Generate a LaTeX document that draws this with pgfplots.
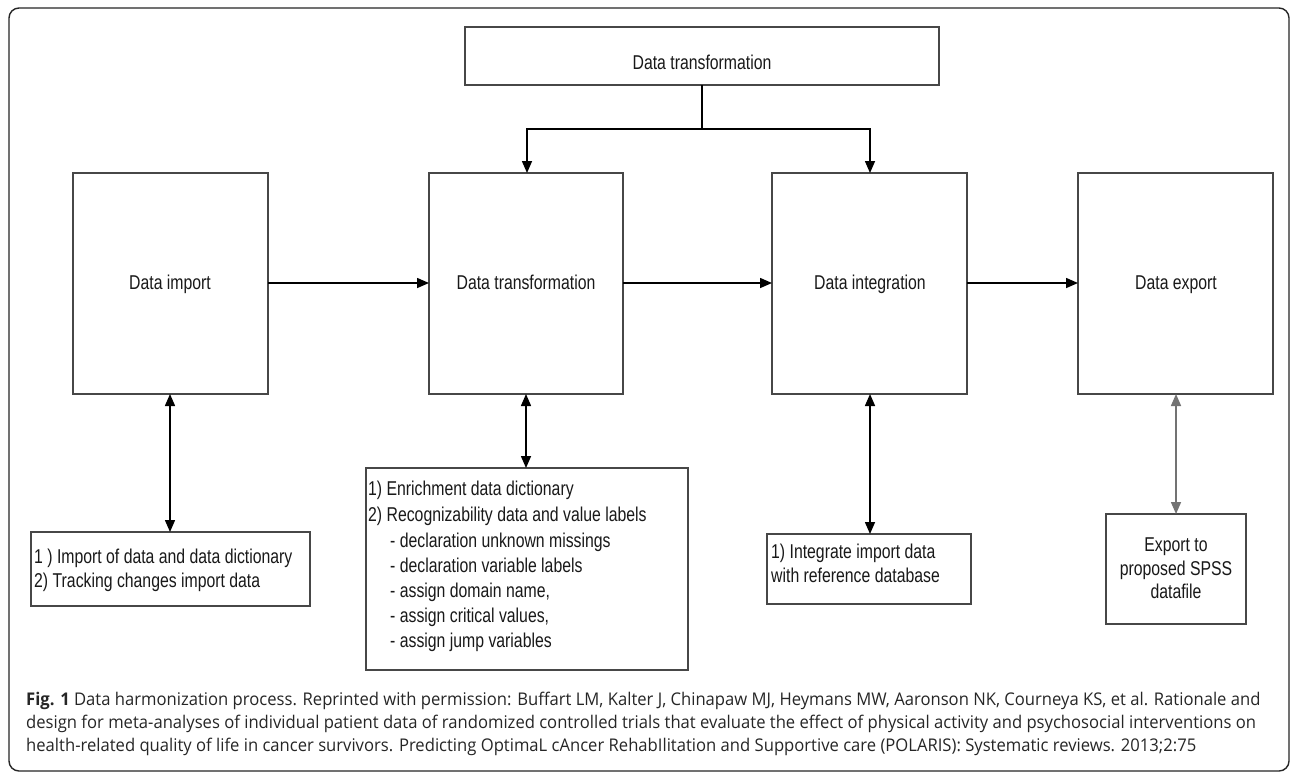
\documentclass[border=0pt]{standalone}
\usepackage{fontspec}
\setmainfont{Liberation Sans}
\newfontfamily\boxfont{Liberation Sans}[FakeStretch=0.79]
\newfontfamily\capfont{Open Sans}[FakeStretch=0.95]
\usepackage{pgfplots}
\pgfplotsset{compat=1.18}
\usetikzlibrary{arrows.meta}
\tikzset{
  bx/.style={draw=black!72, line width=1.6pt, line cap=rect, line join=miter},
  ar/.style={draw=black, line width=1.5pt, -{Triangle[length=12pt,width=10pt]}},
  dar/.style={draw=black, line width=1.5pt, {Triangle[length=12pt,width=10pt]}-{Triangle[length=12pt,width=10pt]}},
  bt/.style={font=\boxfont\fontsize{20}{23}\selectfont, text=black!90, inner sep=0pt},
  ct/.style={font=\capfont\fontsize{17.5}{23}\selectfont, text=black!85, inner sep=0pt, anchor=base west},
}
\begin{document}
\begin{tikzpicture}
\begin{axis}[
  width=1292pt, height=772pt, scale only axis,
  xmin=0, xmax=1292, ymin=0, ymax=772, y dir=reverse,
  hide axis, clip=false,
]
% background
\addplot[fill=white, draw=none] coordinates {(0,0) (1292,0) (1292,772) (0,772) (0,0)};
% outer frame
\addplot[draw=black!85, line width=1.4pt, rounded corners=10pt] coordinates {(600,8) (1289,8) (1289,771) (9,771) (9,8) (600,8)};

% top box
\addplot[bx] coordinates {(465,27) (939,27) (939,85) (465,85) (465,27)};
% main boxes
\addplot[bx] coordinates {(73,173) (268,173) (268,394) (73,394) (73,173)};
\addplot[bx] coordinates {(429,173) (623,173) (623,394) (429,394) (429,173)};
\addplot[bx] coordinates {(772,173) (967,173) (967,394) (772,394) (772,173)};
\addplot[bx] coordinates {(1078,173) (1273,173) (1273,394) (1078,394) (1078,173)};
% bottom boxes
\addplot[bx] coordinates {(31,532) (310,532) (310,606) (31,606) (31,532)};
\addplot[bx] coordinates {(366,468) (688,468) (688,670) (366,670) (366,468)};
\addplot[bx] coordinates {(767,534) (971,534) (971,604) (767,604) (767,534)};
\addplot[bx] coordinates {(1106,514) (1246,514) (1246,624) (1106,624) (1106,514)};

% connectors from top box
\addplot[ar] coordinates {(702,129) (527,129) (527,173)};
\addplot[ar] coordinates {(702,85) (702,129) (870,129) (870,173)};
% horizontal arrows
\addplot[ar] coordinates {(268,283) (429,283)};
\addplot[ar] coordinates {(623,283) (772,283)};
\addplot[ar] coordinates {(967,283) (1078,283)};
% double arrows
\addplot[dar] coordinates {(170,394) (170,532)};
\addplot[dar] coordinates {(526,394) (526,468)};
\addplot[dar] coordinates {(870,394) (870,534)};
\addplot[dar, draw=black!55] coordinates {(1176,394) (1176,514)};

% box texts
\node[bt, anchor=base] at (axis cs:702,69) {Data transformation};
\node[bt, anchor=base] at (axis cs:170,289) {Data import};
\node[bt, anchor=base] at (axis cs:526,289) {Data transformation};
\node[bt, anchor=base] at (axis cs:870,289) {Data integration};
\node[bt, anchor=base] at (axis cs:1176,289) {Data export};

\node[bt, anchor=base west] at (axis cs:34,563) {1 ) Import of data and data dictionary};
\node[bt, anchor=base west] at (axis cs:34,587) {2) Tracking changes import data};

\node[bt, anchor=base west] at (axis cs:368,495) {1) Enrichment data dictionary};
\node[bt, anchor=base west] at (axis cs:368,521) {2) Recognizability data and value labels};
\node[bt, anchor=base west] at (axis cs:390,547) {- declaration unknown missings};
\node[bt, anchor=base west] at (axis cs:390,572) {- declaration variable labels};
\node[bt, anchor=base west] at (axis cs:390,597) {- assign domain name,};
\node[bt, anchor=base west] at (axis cs:390,622) {- assign critical values,};
\node[bt, anchor=base west] at (axis cs:390,647) {- assign jump variables};

\node[bt, anchor=base west] at (axis cs:771,558) {1) Integrate import data};
\node[bt, anchor=base west] at (axis cs:771,582) {with reference database};

\node[bt, anchor=base] at (axis cs:1176,551) {Export to};
\node[bt, anchor=base] at (axis cs:1176,575) {proposed SPSS};
\node[bt, anchor=base] at (axis cs:1176,598) {datafile};

% caption
\node[ct] at (axis cs:26,705) {{\bfseries Fig. 1} Data harmonization process. Reprinted with permission: Buffart LM, Kalter J, Chinapaw MJ, Heymans MW, Aaronson NK, Courneya KS, et al. Rationale and};
\node[ct] at (axis cs:26,728) {design for meta-analyses of individual patient data of randomized controlled trials that evaluate the effect of physical activity and psychosocial interventions on};
\node[ct] at (axis cs:26,751) {health-related quality of life in cancer survivors. Predicting OptimaL cAncer RehabIlitation and Supportive care (POLARIS): Systematic reviews. 2013;2:75};
\end{axis}
\end{tikzpicture}
\end{document}
